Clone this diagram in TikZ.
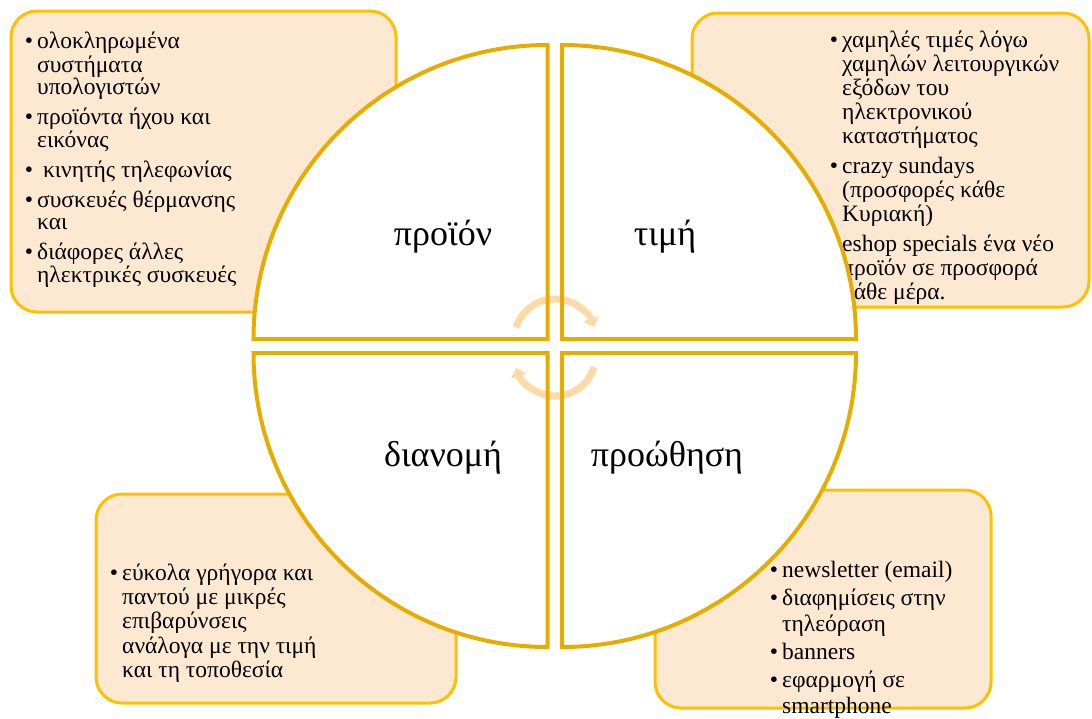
\documentclass[tikz,border=0pt]{standalone}
\usepackage{fontspec}
\setmainfont{Liberation Serif}
\usetikzlibrary{arrows.meta}

\definecolor{goldline}{HTML}{E6AC00}
\definecolor{boxedge}{HTML}{FFC000}
\definecolor{boxfill}{HTML}{FDE9D2}
\definecolor{cyclefill}{HTML}{FFDAA8}

\tikzset{
  infobox/.style={draw=boxedge, line width=3pt, fill=boxfill, rounded corners=26pt},
  itemtext/.style={anchor=north west, inner sep=0pt, align=left, font=\fontsize{23.5}{#1}\selectfont},
  quadrant/.style={draw=goldline, line width=4pt, line join=miter},
  quadlabel/.style={anchor=base, inner sep=0pt, font=\fontsize{36}{40}\selectfont},
  cyclearrow/.style={draw=cyclefill, line width=7pt, -{Triangle[width=16pt,length=9pt]}}
}
\newcommand{\bul}{\llap{\textbullet\hspace{4pt}}}

\begin{document}
\begin{tikzpicture}[x=1pt, y=-1pt]
        \useasboundingbox (0,0) rectangle (1092,718);

        % Define the boxes
        \node[infobox, minimum width=385pt, minimum height=301pt] (prodbox) at (203.5,161.5) {};
        \node[infobox, minimum width=397pt, minimum height=294pt] (pricebox) at (890.5,160) {};
        \node[infobox, minimum width=360pt, minimum height=209pt] (placebox) at (276,598.5) {};
        \node[infobox, minimum width=336pt, minimum height=218pt] (promobox) at (823,599) {};

        % Define the lists
        \node[itemtext=22.5] (prodlist) at (37,31.3) {\strut\bul ολοκληρωμένα\\συστήματα\\υπολογιστών\\[7.5pt]
            \bul προϊόντα ήχου και\\εικόνας\\[7.5pt]
            \bul\ κινητής τηλεφωνίας\\[7.5pt]
            \bul συσκευές θέρμανσης\\και\\[7.5pt]
            \bul διάφορες άλλες\\ηλεκτρικές συσκευές};
        \node[itemtext=24] (pricelist) at (842,30.2) {\strut\bul χαμηλές τιμές λόγω\\χαμηλών λειτουργικών\\εξόδων του\\ηλεκτρονικού\\καταστήματος\\[6pt]
            \bul crazy sundays\\(προσφορές κάθε\\Κυριακή)\\[6pt]
            \bul eshop specials ένα νέο\\προϊόν σε προσφορά\\κάθε μέρα.};
        \node[itemtext=24.3] (placelist) at (122,563) {\strut\bul εύκολα γρήγορα και\\παντού με μικρές\\επιβαρύνσεις\\ανάλογα με την τιμή\\και τη τοποθεσία};
        \node[itemtext=26] (promolist) at (782,558.8) {\strut\bul newsletter (email)\\[2pt]
            \bul διαφημίσεις στην\\τηλεόραση\\[2pt]
            \bul banners\\[2pt]
            \bul εφαρμογή σε\\smartphone};

        % Define the quadrants
        \path[fill=white] (547.5,339) -- (253.5,339) arc[start angle=180, end angle=90, radius=294pt] -- cycle;
        \path[fill=white] (562,339) -- (562,45) arc[start angle=90, end angle=0, radius=294pt] -- cycle;
        \path[fill=white] (547.5,353) -- (547.5,647) arc[start angle=270, end angle=180, radius=294pt] -- cycle;
        \path[fill=white] (562,353) -- (856,353) arc[start angle=0, end angle=-90, radius=294pt] -- cycle;

        % Define the cycle
        \draw[cyclearrow] (516.0,327.3) arc[start angle=162, end angle=18, radius=41pt];
        \draw[cyclearrow] (594.2,367.0) arc[start angle=-17, end angle=-162, radius=41pt];

        \draw[quadrant] (547.5,339) -- (253.5,339) arc[start angle=180, end angle=90, radius=294pt] -- cycle;
        \draw[quadrant] (562,339) -- (562,45) arc[start angle=90, end angle=0, radius=294pt] -- cycle;
        \draw[quadrant] (547.5,353) -- (547.5,647) arc[start angle=270, end angle=180, radius=294pt] -- cycle;
        \draw[quadrant] (562,353) -- (856,353) arc[start angle=0, end angle=-90, radius=294pt] -- cycle;

        % Define the labels
        \node[quadlabel] (product) at (443,245) {προϊόν};
        \node[quadlabel] (price) at (665,245) {τιμή};
        \node[quadlabel] (place) at (443,466) {διανομή};
        \node[quadlabel] (promotion) at (667,466) {προώθηση};

    \end{tikzpicture}
\end{document}
